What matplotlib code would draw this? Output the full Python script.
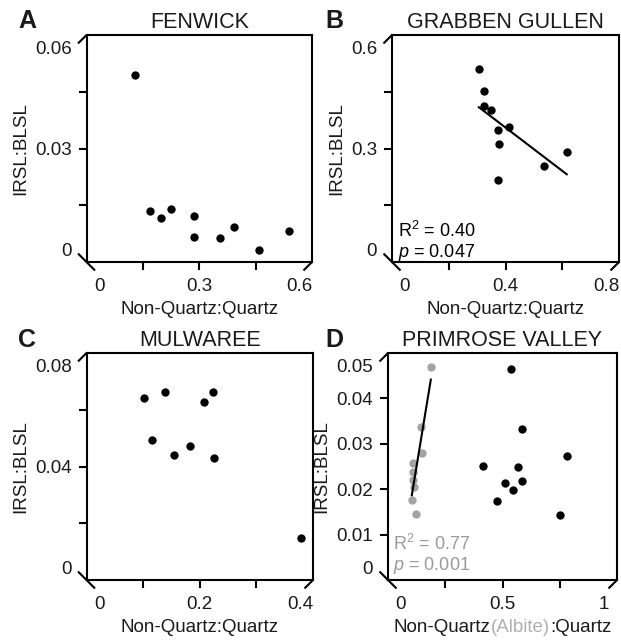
import numpy as np
import matplotlib.pyplot as plt
from matplotlib.transforms import offset_copy

plt.rcParams['font.family'] = ['Liberation Sans', 'DejaVu Sans']
plt.rcParams['mathtext.fontset'] = 'custom'
plt.rcParams['mathtext.rm'] = 'Liberation Sans'
plt.rcParams['mathtext.it'] = 'Liberation Sans:italic'

# Fenwick
fen_x = [0.129, 0.170, 0.197, 0.226, 0.287, 0.287, 0.355, 0.392, 0.460, 0.539]
fen_y = [0.0494, 0.0135, 0.0117, 0.0139, 0.0122, 0.0066, 0.0064, 0.0093, 0.0031, 0.0081]

# Grabben Gullen
grab_x = [0.306, 0.323, 0.323, 0.349, 0.374, 0.413, 0.378, 0.374, 0.537, 0.616]
grab_y = [0.510, 0.453, 0.412, 0.403, 0.349, 0.356, 0.312, 0.218, 0.254, 0.291]

# Mulwaree
mul_x = [0.102, 0.139, 0.208, 0.224, 0.116, 0.154, 0.182, 0.226, 0.378]
mul_y = [0.0641, 0.0662, 0.0629, 0.0662, 0.0492, 0.0441, 0.0474, 0.0429, 0.0147]

# Primrose Valley, non-quartz (black) and albite (grey)
prim_x = [0.538, 0.585, 0.782, 0.414, 0.567, 0.513, 0.545, 0.585, 0.475, 0.753]
prim_y = [0.0464, 0.0333, 0.0273, 0.0252, 0.0249, 0.0214, 0.0199, 0.0219, 0.0174, 0.0144]
alb_x = [0.187, 0.143, 0.148, 0.110, 0.107, 0.110, 0.114, 0.104, 0.124]
alb_y = [0.0469, 0.0337, 0.0280, 0.0257, 0.0237, 0.0221, 0.0204, 0.0177, 0.0146]

W, H = 621, 641
fig = plt.figure(figsize=(W / 100, H / 100), dpi=100)

TXT = '#1a1a1a'
GREY = '#a3a3a3'
TL = 8      # tick length px
PADX = 8
PADY = 7
FS_TICK = 13.5
FS_LAB = 13.5
LW = 1.5


def make_axes(l, r, t, b):
    return fig.add_axes([l / W, 1 - b / H, (r - l) / W, (b - t) / H])


def style(ax, title, xlim, ylim, xmaj, xmin, ymaj, ymin, xends, yends, xlabel=True):
    ax.set_xlim(xlim)
    ax.set_ylim(ylim)
    for s in ax.spines.values():
        s.set_linewidth(LW)
    ax.set_xticks(xmaj)
    ax.set_xticks(xmin, minor=True)
    ax.set_yticks(ymaj)
    ax.set_yticks(ymin, minor=True)
    ax.tick_params(which='both', direction='out', length=TL * 0.72, width=LW,
                   labelsize=FS_TICK, labelcolor=TXT)
    ax.tick_params(axis='x', pad=PADX * 0.72)
    ax.tick_params(axis='y', pad=PADY * 0.72)
    ax.set_title(title, fontsize=15.5, color=TXT, pad=5)
    ax.set_ylabel('IRSL:BLSL', fontsize=FS_LAB, color=TXT, labelpad=4)
    if xlabel:
        ax.set_xlabel('Non-Quartz:Quartz', fontsize=FS_LAB, color=TXT, labelpad=4)

    # slanted end ticks
    pos = ax.get_position()
    wpx, hpx = pos.width * W, pos.height * H
    d = 8.5
    ax.plot([-d / wpx, d / wpx], [d / hpx, -d / hpx], color='k', lw=LW,
            transform=ax.transAxes, clip_on=False, solid_capstyle='butt')
    ax.plot([0, -d / wpx], [1, 1 - d / hpx], color='k', lw=LW,
            transform=ax.transAxes, clip_on=False, solid_capstyle='butt')
    ax.plot([1, 1 - d / wpx], [0, -d / hpx], color='k', lw=LW,
            transform=ax.transAxes, clip_on=False, solid_capstyle='butt')

    # end labels, pushed inwards
    tx = ax.get_xaxis_transform()
    ax.text(xlim[0], 0, xends[0], ha='center', va='top', fontsize=FS_TICK, color=TXT,
            transform=offset_copy(tx, fig=fig, x=13, y=-(TL + PADX), units='dots'))
    ax.text(xlim[1], 0, xends[1], ha='center', va='top', fontsize=FS_TICK, color=TXT,
            transform=offset_copy(tx, fig=fig, x=-13, y=-(TL + PADX), units='dots'))
    ty = ax.get_yaxis_transform()
    ax.text(0, ylim[0], yends[0], ha='right', va='center_baseline', fontsize=FS_TICK,
            color=TXT, transform=offset_copy(ty, fig=fig, x=-(TL + PADY), y=12, units='dots'))
    ax.text(0, ylim[1], yends[1], ha='right', va='center_baseline', fontsize=FS_TICK,
            color=TXT, transform=offset_copy(ty, fig=fig, x=-(TL + PADY), y=-12, units='dots'))


def fit_line(ax, x, y, color='k'):
    x = np.asarray(x)
    y = np.asarray(y)
    m, c = np.polyfit(x, y, 1)
    xx = np.array([x.min(), x.max()])
    ax.plot(xx, m * xx + c, color=color, lw=LW, zorder=4)


def stats(ax, r2, p, b1, b2, dx, color):
    ax.text(0, 0, r'$\mathrm{R}^2$ = ' + r2, fontsize=13, color=color, va='baseline',
            transform=offset_copy(ax.transAxes, fig=fig, x=dx, y=b1, units='dots'))
    ax.text(0, 0, r'$p$ = ' + p, fontsize=13, color=color, va='baseline',
            transform=offset_copy(ax.transAxes, fig=fig, x=dx, y=b2, units='dots'))


S = 36

# A
axA = make_axes(86.5, 312, 35, 262)
axA.scatter(fen_x, fen_y, s=S, color='k', zorder=3, clip_on=False, linewidths=0)
style(axA, 'FENWICK', (0, 0.6), (0, 0.06), [0.3], [0.15, 0.45], [0.03], [0.015, 0.045],
      ('0', '0.6'), ('0', '0.06'))
axA.set_xticklabels(['0.3'])
axA.set_yticklabels(['0.03'])

# B
axB = make_axes(392, 619, 35, 262)
axB.scatter(grab_x, grab_y, s=S, color='k', zorder=3, clip_on=False, linewidths=0)
fit_line(axB, grab_x, grab_y)
style(axB, 'GRABBEN GULLEN', (0, 0.8), (0, 0.6), [0.4], [0.2, 0.6], [0.3], [0.15, 0.45],
      ('0', '0.8'), ('0', '0.6'))
axB.set_xticklabels(['0.4'])
axB.set_yticklabels(['0.3'])
stats(axB, '0.40', '0.047', 25, 5, 6, 'k')

# C
axC = make_axes(86.5, 313, 353, 580)
axC.scatter(mul_x, mul_y, s=S, color='k', zorder=3, clip_on=False, linewidths=0)
style(axC, 'MULWAREE', (0, 0.4), (0, 0.08), [0.2], [0.1, 0.3], [0.04], [0.02, 0.06],
      ('0', '0.4'), ('0', '0.08'))
axC.set_xticklabels(['0.2'])
axC.set_yticklabels(['0.04'])

# D
axD = make_axes(388, 617, 353, 580)
axD.scatter(alb_x, alb_y, s=S, color=GREY, zorder=3, clip_on=False, linewidths=0)
axD.scatter(prim_x, prim_y, s=S, color='k', zorder=3, clip_on=False, linewidths=0)
fit_line(axD, alb_x, alb_y)
style(axD, 'PRIMROSE VALLEY', (0, 1), (0, 0.05), [0.5], [0.25, 0.75],
      [0.01, 0.02, 0.03, 0.04], [], ('0', '1'), ('0', '0.05'), xlabel=False)
axD.set_xticklabels(['0.5'])
axD.set_yticklabels(['0.01', '0.02', '0.03', '0.04'])
stats(axD, '0.77', '0.001', 30, 10, 5, '#9a9a9a')

# two-colour x label for D: a temporary full label gives the place, pieces drawn on it
parts = [('Non-Quartz', TXT), ('(Albite)', '#b0b0b0'), (':Quartz', TXT)]
axD.set_xlabel(''.join(p for p, _ in parts), fontsize=FS_LAB, labelpad=4)
fig.canvas.draw()
rend = fig.canvas.get_renderer()
bb = axD.xaxis.label.get_window_extent(rend)
axD.set_xlabel('')
prefix = ''
for piece, col in parts:
    x0 = bb.x0
    if prefix:
        tmp = fig.text(0, 0, prefix + piece, fontsize=FS_LAB)
        wfull = tmp.get_window_extent(rend).width
        tmp.remove()
        tmp = fig.text(0, 0, piece, fontsize=FS_LAB)
        wpiece = tmp.get_window_extent(rend).width
        tmp.remove()
        x0 = bb.x0 + wfull - wpiece
    fig.text(x0 / W, bb.y0 / H, piece, fontsize=FS_LAB, color=col, ha='left', va='bottom')
    prefix += piece

# panel letters
for s, x, y in [('A', 18, 28), ('B', 325, 28), ('C', 18, 347), ('D', 325, 347)]:
    fig.text(x / W, 1 - y / H, s, fontsize=18, fontweight='bold', color=TXT,
             ha='left', va='baseline')

fig.savefig('out.png', dpi=100)
